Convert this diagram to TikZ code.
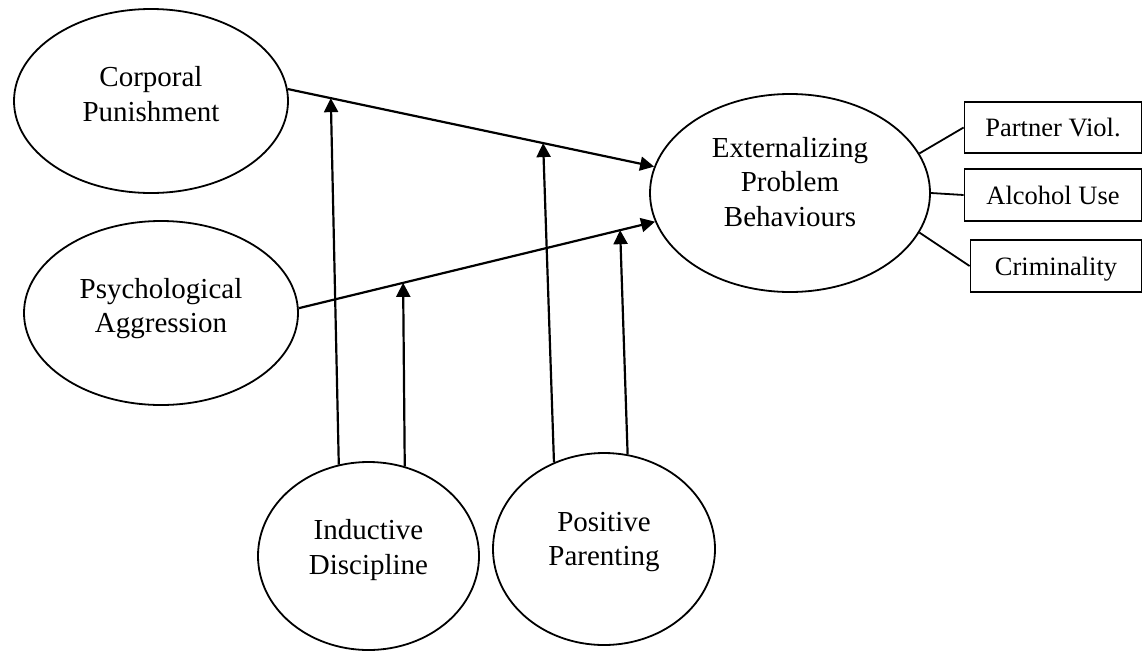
\documentclass[tikz,border=0pt]{standalone}
\usepackage{fontspec}
\setmainfont{Liberation Serif}
\usetikzlibrary{arrows.meta,shapes.geometric,calc}
\begin{document}
\begin{tikzpicture}[x=1pt,y=-1pt,
  latent/.style={draw,line width=1.8pt,ellipse,inner sep=0pt},
  lbl/.style={align=center,font=\fontsize{29}{34.5}\selectfont,inner sep=0pt},
  indic/.style={draw,line width=1.8pt,rectangle,inner sep=0pt,font=\fontsize{26.5}{30}\selectfont,text height=18pt,text depth=0pt},
  arr/.style={line width=2.2pt,-{Triangle[length=14pt,width=14pt]}},
  link/.style={line width=1.8pt}]
\useasboundingbox (0,0) rectangle (1143,651);
% latent variables
\node[latent,minimum width=274pt,minimum height=184pt] (corp) at (151,101) {};
\node[latent,minimum width=274pt,minimum height=184pt] (psy) at (161,313) {};
\node[latent,minimum width=280pt,minimum height=198pt] (ext) at (790,193) {};
\node[latent,minimum width=221pt,minimum height=188pt] (indu) at (368.5,556) {};
\node[latent,minimum width=222pt,minimum height=192pt] (pos) at (604,549) {};
% labels
\node[lbl] (corpT) at ([yshift=7pt]corp.center) {Corporal\\Punishment};
\node[lbl] (psyT) at ([yshift=4.5pt]psy.center) {Psychological\\Aggression};
\node[lbl] (extT) at ([yshift=11pt]ext.center) {Externalizing\\Problem\\Behaviours};
\node[lbl] (induT) at ([yshift=6pt]indu.center) {Inductive\\Discipline};
\node[lbl] (posT) at ([yshift=7pt]pos.center) {Positive\\Parenting};
% indicators
\node[indic,minimum width=177pt,minimum height=51pt] (pv) at (1053,127.5) {Partner Viol.};
\node[indic,minimum width=177pt,minimum height=52pt] (au) at (1053,195) {Alcohol Use};
\node[indic,minimum width=171pt,minimum height=52pt] (cr) at (1056,266) {Criminality};
\draw[link] (ext.17) -- (pv.west);
\draw[link] (ext.east) -- (au.west);
\draw[link] (ext.-17) -- (cr.west);
% main paths
\draw[arr] (corp.5) -- (ext.169);
\draw[arr] (psy.2) -- (ext.192);
% moderation points
\coordinate (m1) at ($(corp.5)!0.1175!(ext.169)$);
\coordinate (m2) at ($(corp.5)!0.697!(ext.169)$);
\coordinate (m3) at ($(psy.2)!0.293!(ext.192)$);
\coordinate (m4) at ($(psy.2)!0.902!(ext.192)$);
\draw[arr] (indu.108) -- (m1);
\draw[arr] (indu.68) -- (m3);
\draw[arr] (pos.120) -- (m2);
\draw[arr] (pos.76) -- (m4);
\end{tikzpicture}
\end{document}
